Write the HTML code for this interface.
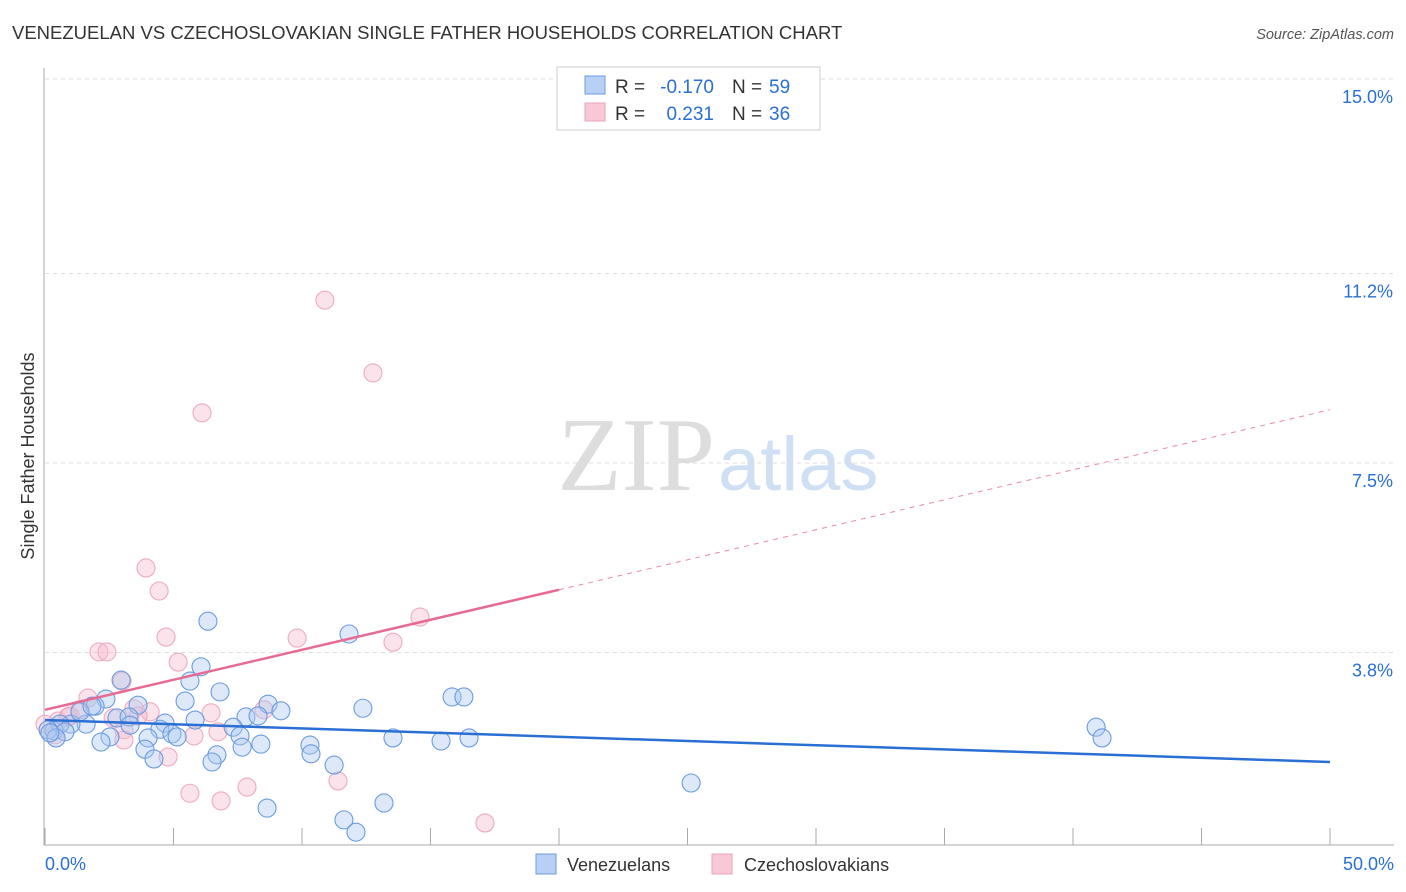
<!DOCTYPE html>
<html><head><meta charset="utf-8"><style>
body{margin:0;background:#fff;font-family:"Liberation Sans",sans-serif}
</style></head><body>
<svg id="c" width="1406" height="892" style="position:absolute;left:0;top:0">
<text x="12" y="39" font-size="18.5" fill="#333">VENEZUELAN VS CZECHOSLOVAKIAN SINGLE FATHER HOUSEHOLDS CORRELATION CHART</text>
<text x="1394" y="39" font-size="14.5" fill="#555" font-style="italic" text-anchor="end">Source: ZipAtlas.com</text>
<text x="715" y="490" font-size="105" fill="#ddd" text-anchor="end" font-family="Liberation Serif">ZIP</text>
<text x="718" y="490" font-size="76" fill="#cfe0f5">atlas</text>
<text x="34" y="456" font-size="18" fill="#333" text-anchor="middle" transform="rotate(-90 34 456)">Single Father Households</text>
<g id="grid"></g><g id="marks"></g>
<g>
<rect x="557" y="67" width="263" height="63" fill="#fff" stroke="#ccc"/>
<rect x="585" y="76" width="20" height="18" fill="#b8d0f3" stroke="#6a9be0"/>
<rect x="585" y="103" width="20" height="18" fill="#f8c8d6" stroke="#eaa3b9"/>
<text x="615" y="93" font-size="19" fill="#333">R =</text>
<text x="714" y="93" font-size="19" fill="#2a6fd4" text-anchor="end">-0.170</text>
<text x="732" y="93" font-size="19" fill="#333">N =</text>
<text x="769" y="93" font-size="19" fill="#2a6fd4">59</text>
<text x="615" y="120" font-size="19" fill="#333">R =</text>
<text x="714" y="120" font-size="19" fill="#2a6fd4" text-anchor="end">0.231</text>
<text x="732" y="120" font-size="19" fill="#333">N =</text>
<text x="769" y="120" font-size="19" fill="#2a6fd4">36</text>
</g>
<g>
<rect x="536" y="854" width="20" height="20" fill="#b8d0f3" stroke="#6a9be0"/>
<text x="567" y="871" font-size="18" fill="#333">Venezuelans</text>
<rect x="712" y="854" width="20" height="20" fill="#f8c8d6" stroke="#eaa3b9"/>
<text x="744" y="871" font-size="18" fill="#333">Czechoslovakians</text>
</g>
</svg>
<script>
const yTicks=[15.0,11.2,7.5,3.8];
const yTickLabels=["15.0%","11.2%","7.5%","3.8%"];
const xTickLabels=["0.0%","50.0%"];
const blueX=[6.34,11.83,6.07,5.64,2.96,6.81,5.45,2.37,3.62,1.95,8.68,9.18,12.37,15.84,16.30,7.82,8.29,2.80,3.27,4.67,1.60,1.01,0.35,0.58,0.12,0.78,7.32,4.47,4.94,5.14,4.01,3.31,2.53,2.18,7.59,8.40,10.31,10.35,7.67,3.89,4.24,6.69,6.50,11.25,13.54,15.41,16.50,40.90,41.13,25.14,13.19,8.64,11.63,12.10,0.43,0.19,1.36,1.83,5.84];
const blueY=[4.41,4.16,3.52,3.24,3.26,3.03,2.85,2.89,2.77,2.75,2.79,2.66,2.71,2.93,2.93,2.54,2.56,2.52,2.54,2.42,2.40,2.40,2.27,2.40,2.29,2.25,2.34,2.30,2.21,2.15,2.13,2.38,2.15,2.05,2.17,2.01,1.99,1.82,1.95,1.91,1.72,1.80,1.66,1.60,2.13,2.07,2.13,2.34,2.13,1.25,0.86,0.76,0.53,0.29,2.13,2.23,2.64,2.75,2.48];
const pinkX=[10.89,12.76,6.11,3.93,4.44,14.59,4.71,9.81,13.54,2.10,2.41,5.18,3.00,1.67,1.36,3.46,4.09,6.46,2.65,3.62,8.52,0.89,0.51,3.07,6.73,5.80,0,0.39,4.79,3.07,11.40,7.86,5.64,6.85,17.12,0.97];
const pinkY=[10.68,9.26,8.48,5.45,5.00,4.49,4.10,4.08,4.00,3.81,3.81,3.61,3.24,2.91,2.68,2.70,2.64,2.62,2.52,2.56,2.68,2.54,2.46,2.29,2.25,2.17,2.40,2.19,1.76,2.09,1.29,1.17,1.05,0.90,0.47,2.56];
const blueTrend=[2.48,1.66];
const pinkTrend=[2.68,8.54];
const X=v=>45+v/50*1285, Y=v=>79+(15-v)*51.2;
const NS="http://www.w3.org/2000/svg";
function mk(t,a,p){const e=document.createElementNS(NS,t);for(const k in a)e.setAttribute(k,a[k]);p.appendChild(e);return e;}
const g=document.getElementById('grid'), m=document.getElementById('marks');
yTicks.forEach((v,i)=>{
 const l=mk('line',{x1:45,x2:1394,y1:Y(v),y2:Y(v),stroke:'#ddd','stroke-dasharray':'4,4'},g);
 
 
 const t=mk('text',{x:1393,y:Y(v)+24,'font-size':18,fill:'#2a6fd4','text-anchor':'end'},g);t.textContent=yTickLabels[i];
 
 
});
const ax=mk('path',{d:'M44 68V845H1394',stroke:'#aaa',fill:'none'},g);


for(let k=0;k<=10;k++){const l=mk('line',{x1:X(k*5),x2:X(k*5),y1:828,y2:845,stroke:'#aaa'},g);
 
 }
[[0,'start',45],[50,'end',1394]].forEach((d,i)=>{const t=mk('text',{x:d[2],y:870,'font-size':18,fill:'#2a6fd4','text-anchor':d[1]},g);t.textContent=xTickLabels[i];
 
 });
function pts(xs,ys,fill,st,name){xs.forEach((x,i)=>{const c=mk('circle',{cx:X(x),cy:Y(ys[i]),r:9,fill:fill,stroke:st,'stroke-width':1.1},m);
 
 });}
pts(pinkX,pinkY,'rgba(246,185,205,0.4)','#eeaac0','czechoslovakian-point');
pts(blueX,blueY,'rgba(170,200,240,0.4)','#6b9be0','venezuelan-point');
const bl=mk('line',{x1:X(0),y1:Y(blueTrend[0]),x2:X(50),y2:Y(blueTrend[1]),stroke:'#2a6fd4','stroke-width':2.5},m);


const mid=pinkTrend[0]+(pinkTrend[1]-pinkTrend[0])*0.4;
const p1=mk('line',{x1:X(0),y1:Y(pinkTrend[0]),x2:X(20),y2:Y(mid),stroke:'#e86a92','stroke-width':2.5},m);


const p2=mk('line',{x1:X(20),y1:Y(mid),x2:X(50),y2:Y(pinkTrend[1]),stroke:'#e88aa8','stroke-width':1,'stroke-dasharray':'5,5'},m);


</script>
</body></html>
